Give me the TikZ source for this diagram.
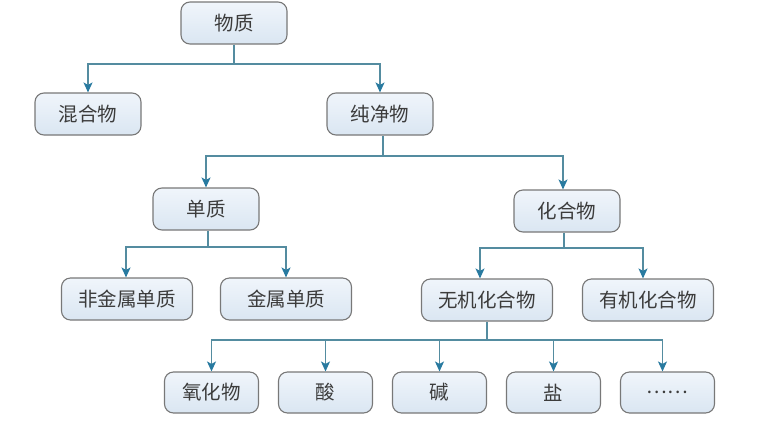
\documentclass[tikz,border=0pt]{standalone}
\usepackage{fontspec}
\newfontfamily\cjk{Noto Sans CJK SC}
\usetikzlibrary{arrows.meta}
\definecolor{linec}{RGB}{84,140,160}
\definecolor{arrc}{RGB}{40,122,160}
\definecolor{boxline}{RGB}{120,120,120}
\definecolor{boxtop}{RGB}{240,245,251}
\definecolor{boxbot}{RGB}{218,230,242}
\definecolor{txt}{RGB}{60,60,60}
\tikzset{
  cbox/.style={draw=boxline, line width=1.1pt, rounded corners=9pt,
    top color=boxtop, bottom color=boxbot, text=txt,
    font=\cjk\fontsize{19.5}{22}\selectfont,
    minimum height=42pt, inner sep=0pt},
  wbox/.style={cbox, minimum width=106pt},
  lbox/.style={cbox, minimum width=131pt},
  sbox/.style={cbox, minimum width=94pt, minimum height=41pt},
  conn/.style={draw=linec, line width=1.3pt},
  arr/.style={conn, -{Stealth[length=10pt,width=9pt,inset=2.5pt,fill=arrc,color=arrc]}}
}
\begin{document}
\begin{tikzpicture}[x=1pt,y=-1pt]
\useasboundingbox (0,0) rectangle (780,424);
% nodes
\node[wbox] (wz)  at (234,23)  {物质};
\node[wbox] (hhw) at (88,114)  {混合物};
\node[wbox] (cjw) at (380,114) {纯净物};
\node[wbox] (dz)  at (206,209) {单质};
\node[wbox] (hhc) at (567,211) {化合物};
\node[lbox] (fjs) at (127,299) {非金属单质};
\node[lbox] (js)  at (286,299) {金属单质};
\node[lbox] (wj)  at (487,300) {无机化合物};
\node[lbox] (yj)  at (648,300) {有机化合物};
\node[sbox] (yh)  at (211.5,392.5) {氧化物};
\node[sbox] (suan) at (325.5,392.5) {酸};
\node[sbox] (jian) at (439.5,392.5) {碱};
\node[sbox] (yan) at (553.5,392.5) {盐};
\node[sbox] (etc) at (667.5,392.5) {……};
% connectors
\draw[conn] (wz.south) -- (wz.south |- 0,64) coordinate (b1);
\draw[arr] (b1) -| (hhw.north);
\draw[arr] (b1) -| (cjw.north);
\draw[conn] ([xshift=3pt]cjw.south) -- ([xshift=3pt]cjw.south |- 0,156) coordinate (b2);
\draw[arr] (b2) -| (dz.north);
\draw[arr] (b2) -| ([xshift=-4pt]hhc.north);
\draw[conn] ([xshift=2pt]dz.south) -- ([xshift=2pt]dz.south |- 0,247) coordinate (b3);
\draw[arr] (b3) -| ([xshift=-1pt]fjs.north);
\draw[arr] (b3) -| (js.north);
\draw[conn] ([xshift=-3pt]hhc.south) -- ([xshift=-3pt]hhc.south |- 0,248) coordinate (b4);
\draw[arr] (b4) -| ([xshift=-7pt]wj.north);
\draw[arr] (b4) -| ([xshift=-5pt]yj.north);
\draw[conn] (wj.south) -- (wj.south |- 0,340) coordinate (b5);
\draw[arr] (b5) -| (yh.north);
\draw[arr] (b5) -| (suan.north);
\draw[arr] (b5) -| (jian.north);
\draw[arr] (b5) -| (yan.north);
\draw[arr] (b5) -| ([xshift=-5pt]etc.north);
\end{tikzpicture}
\end{document}
